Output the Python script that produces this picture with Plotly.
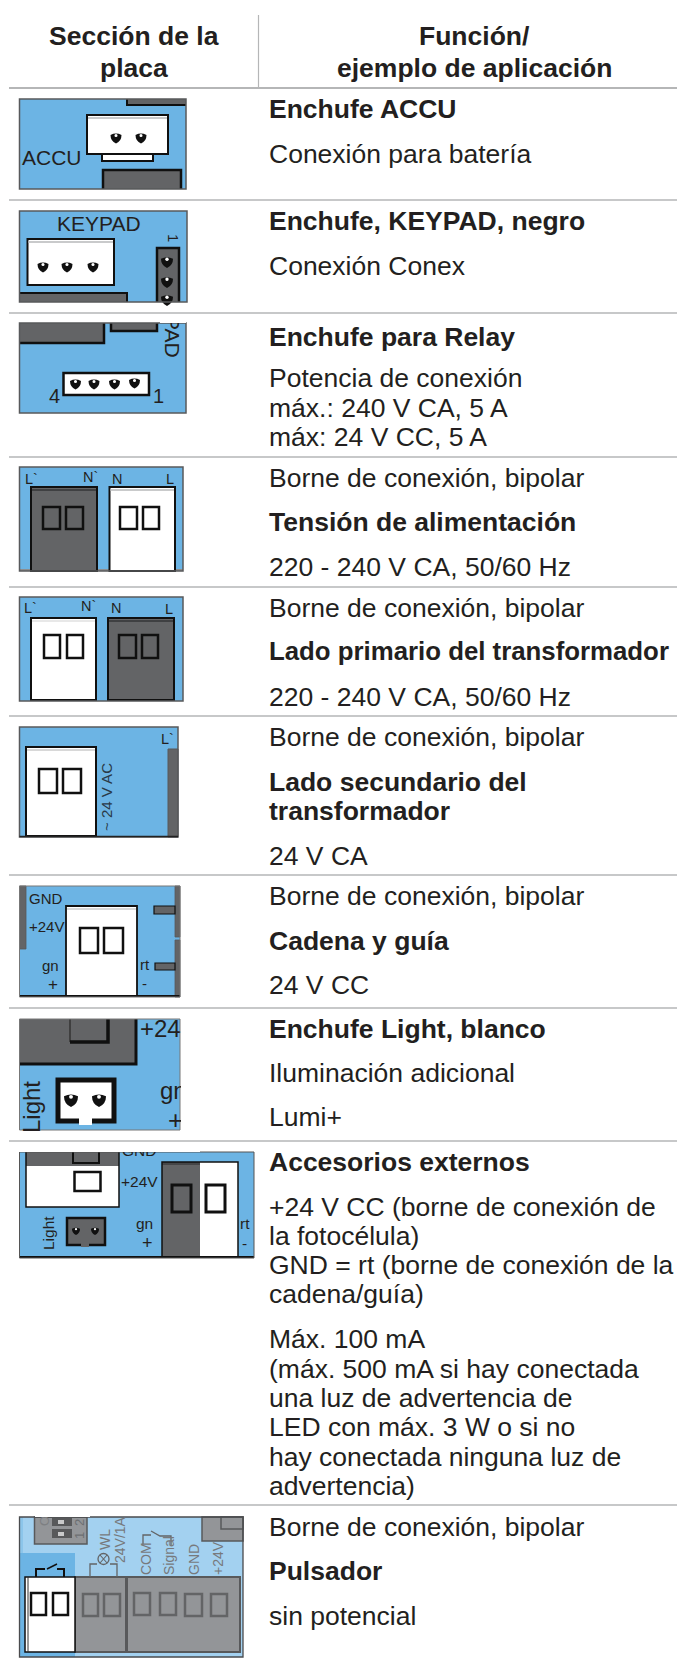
import plotly.graph_objects as go

# ---- table content ----
HEADER_LEFT = ["Sección de la", "placa"]
HEADER_RIGHT = ["Función/", "ejemplo de aplicación"]
# (text, bold)
ROW_TEXT = [
    ("Enchufe ACCU", True), ("Conexión para batería", False),
    ("Enchufe, KEYPAD, negro", True), ("Conexión Conex", False),
    ("Enchufe para Relay", True), ("Potencia de conexión", False),
    ("máx.: 240 V CA, 5 A", False), ("máx: 24 V CC, 5 A", False),
    ("Borne de conexión, bipolar", False), ("Tensión de alimentación", True),
    ("220 - 240 V CA, 50/60 Hz", False),
    ("Borne de conexión, bipolar", False), ("Lado primario del transformador", True),
    ("220 - 240 V CA, 50/60 Hz", False),
    ("Borne de conexión, bipolar", False), ("Lado secundario del", True),
    ("transformador", True), ("24 V CA", False),
    ("Borne de conexión, bipolar", False), ("Cadena y guía", True), ("24 V CC", False),
    ("Enchufe Light, blanco", True), ("Iluminación adicional", False), ("Lumi+", False),
    ("Accesorios externos", True), ("+24 V CC (borne de conexión de", False),
    ("la fotocélula)", False), ("GND = rt (borne de conexión de la", False),
    ("cadena/guía)", False), ("Máx. 100 mA", False),
    ("(máx. 500 mA si hay conectada", False), ("una luz de advertencia de", False),
    ("LED con máx. 3 W o si no", False), ("hay conectada ninguna luz de", False),
    ("advertencia)", False),
    ("Borne de conexión, bipolar", False), ("Pulsador", True), ("sin potencial", False),
]
ROW_TEXT_Y = [109, 154, 221, 266, 337, 378, 408, 437, 478, 522, 567, 608, 651, 697,
              737, 782, 811, 856, 896, 941, 985, 1029, 1073, 1117, 1162, 1207, 1236,
              1265, 1294, 1339, 1369, 1398, 1427, 1457, 1486, 1527, 1571, 1616]
RULE_Y = [88, 200, 313, 457, 587, 716, 875, 1008, 1141, 1505]

BLUE = "#6cb4e4"
LIGHT = "#a3d1f0"
DARK = "#636466"
GREY = "#939598"
BLACK = "#101010"
EDGE = "#58595b"
TXT = "#231f20"
FONT = "Liberation Sans, Arial, sans-serif"

shapes, ann = [], []


def rect(x0, y0, x1, y1, fill=None, line=None, w=0):
    shapes.append(dict(type="rect", xref="x", yref="y", x0=x0, y0=y0, x1=x1, y1=y1,
                       fillcolor=fill or "rgba(0,0,0,0)",
                       line=dict(color=line or "rgba(0,0,0,0)", width=w)))


def seg(pts, color=BLACK, w=2):
    path = "M " + " L ".join(f"{a},{b}" for a, b in pts)
    shapes.append(dict(type="path", xref="x", yref="y", path=path,
                       line=dict(color=color, width=w)))


def text(x, y, s, size=14, color=TXT, anchor="left", angle=0, bold=False):
    if anchor == "left":
        x -= 2.5  # annotation padding
    ann.append(dict(x=x, y=y, xref="x", yref="y", text=f"<b>{s}</b>" if bold else s,
                    showarrow=False, xanchor=anchor, yanchor="middle", textangle=angle,
                    font=dict(family=FONT, size=size, color=color)))


def mask(x0, y0, x1, y1):
    ann.append(dict(x=x0, y=y0, xref="x", yref="y", text=" ", showarrow=False,
                    xanchor="left", yanchor="top", width=x1 - x0, height=y1 - y0,
                    bgcolor="white", borderpad=0, borderwidth=0,
                    font=dict(size=1, color="white")))


def pin(x, y, r=5.5, color=BLACK):
    p = (f"M {x-r},{y-r*.55} Q {x},{y-r*1.05} {x+r},{y-r*.55} "
         f"Q {x+r},{y+r*.55} {x},{y+r} Q {x-r},{y+r*.55} {x-r},{y-r*.55} Z")
    shapes.append(dict(type="path", xref="x", yref="y", path=p, fillcolor=color,
                       line=dict(color=color, width=0)))
    d = r * .28
    shapes.append(dict(type="circle", xref="x", yref="y", x0=x-d, x1=x+d, y0=y-r*.45-d,
                       y1=y-r*.45+d, fillcolor="white", line=dict(width=0, color="white")))


def panel(x0, y0, x1, y1):
    rect(x0, y0, x1, y1, BLUE)


def frame(x0, y0, x1, y1, color=EDGE, w=1.5):
    rect(x0, y0, x1, y1, None, color, w)


def connector(x0, y0, x1, y1, fill="white", stripe="#c9cacb", w=2):
    rect(x0, y0, x1, y1, fill, BLACK, w)
    rect(x0 + 1, y0 + 2, x1 - 1, y0 + 4, stripe)


def hole(x0, y0, x1, y1, color=BLACK, w=2.5):
    rect(x0, y0, x1, y1, None, color, w)


# ---- rules ----
for i, y in enumerate(RULE_Y):
    h = 1.1 if i == 0 else 0.85
    rect(9, y - h, 685, y + h, "#b5b6b7")
seg([(258.5, 15), (258.5, 88)], "#b5b6b7", 1.2)

# ---- image 1: ACCU ----
panel(19.5, 99, 186, 189)
rect(127, 99, 186, 104.5, DARK)
seg([(127, 99), (127, 105), (186, 105)], BLACK, 2)
rect(102, 154, 153, 161, "white", BLACK, 2)
connector(87, 115, 168, 154)
pin(116, 138); pin(141, 138)
rect(103, 169, 181, 189, DARK)
seg([(103, 189), (103, 170), (181, 170), (181, 189)], BLACK, 2.5)
text(22, 157, "ACCU", 21)
frame(19.5, 99, 186, 189)

# ---- image 2: KEYPAD ----
panel(19.5, 211, 187, 302)
text(99, 223, "KEYPAD", 21, anchor="center")
connector(27.5, 239, 114, 285)
pin(43, 267); pin(67, 267); pin(93, 267)
rect(20, 293, 127, 302, DARK)
seg([(20, 293), (127, 293), (127, 302)], BLACK, 2)
rect(157, 248, 179, 302, DARK)
seg([(157, 302), (157, 248), (179, 248), (179, 302)], BLACK, 2.5)
pin(167, 262, 6); pin(167, 282, 6); pin(167, 300, 6)
text(174, 238, "1", 15, anchor="center", angle=90)
frame(19.5, 211, 187, 302)

# ---- image 3: relay ----
panel(19.5, 323, 186, 413)
rect(19.5, 323, 104, 343, DARK)
seg([(19.5, 343), (104, 343), (104, 323)], BLACK, 2.5)
rect(111, 323, 157, 331, DARK)
seg([(111, 323), (111, 331), (157, 331), (157, 323)], BLACK, 2.5)
text(173, 337, "PAD", 21, anchor="center", angle=90)
mask(160, 314.5, 186, 322.5)
rect(63.5, 373, 149, 395, "white", BLACK, 2.5)
pin(75.5, 384); pin(94, 384); pin(114.5, 384); pin(134.5, 383)
text(49, 396, "4", 20); text(153, 396, "1", 20)
frame(19.5, 323, 186, 413)

# ---- image 4: supply ----
panel(19.5, 467, 183, 571)
rect(19.5, 569, 183, 571, "#8c8e90")
for lx, s, ly in [(25, "L`", 479), (83, "N`", 477), (112, "N", 479), (166, "L", 479)]:
    text(lx, ly, s, 14.5)
connector(31, 487, 97, 571, DARK, "#3f4042")
connector(109.5, 487, 175, 571, "white", "#c9cacb")
hole(43, 507, 60, 529); hole(66, 507, 83, 529)
hole(120, 507, 137, 529); hole(143, 507, 159, 529)
frame(19.5, 467, 183, 571)

# ---- image 5: transformer primary ----
panel(19.5, 597, 183, 701)
for lx, s, ly in [(24, "L`", 608), (81, "N`", 606), (111, "N", 608), (165, "L", 609)]:
    text(lx, ly, s, 14.5)
connector(31, 618, 96, 700, "white", "#e8e8e8")
connector(108, 618, 174, 700, DARK, "#3f4042")
hole(44, 635, 60, 658); hole(67, 635, 83, 658)
hole(119, 635, 136, 658); hole(142, 635, 158, 658)
frame(19.5, 597, 183, 701)

# ---- image 6: transformer secondary ----
panel(19.5, 727, 178, 837)
rect(168, 749, 178, 837, DARK, EDGE, 1)
text(161, 739, "L`", 14.5)
connector(26, 747, 96, 836, "white", "#d8d8d8")
hole(39, 769, 57, 793); hole(63, 769, 81, 793)
text(106, 797, "~ 24 V AC", 15, anchor="center", angle=-90, color="#2a3a48")
frame(19.5, 727, 178, 837)
seg([(19.5, 836.5), (178, 836.5)], "#222", 1.5)

# ---- image 7: chain & rail ----
panel(19.5, 886, 180, 997)
rect(19.5, 886, 26, 949, DARK, EDGE, 0.8)
rect(175, 886, 180, 937, DARK, EDGE, 0.8)
rect(175, 940, 180, 997, DARK, EDGE, 0.8)
rect(154, 906, 175, 914, DARK, BLACK, 1.2)
rect(155, 963, 175, 970, DARK, BLACK, 1.2)
text(29, 898, "GND", 15); text(29, 926, "+24V", 15)
text(42, 965, "gn", 15); text(48, 984, "+", 17)
text(140, 964, "rt", 15); text(142, 983, "-", 15)
connector(66, 906, 137, 996, "white", "#d8d8d8", 1.8)
hole(80, 928, 98, 953); hole(104, 928, 123, 953)
seg([(19.5, 996), (180, 996)], "#111", 2)
frame(19.5, 886, 180, 997, "#777", 1)

# ---- image 8: Light ----
panel(19.5, 1019, 180, 1130)
rect(19.5, 1019, 136, 1064, DARK)
seg([(19.5, 1064), (136, 1064), (136, 1019)], BLACK, 3)
seg([(70, 1019), (70, 1042)], "#333", 1.5)
seg([(70, 1042), (108, 1042), (108, 1019)], BLACK, 3.5)
text(140, 1028, "+24", 24)
text(160, 1090, "gn", 24)
text(168, 1120, "+", 26)
text(31, 1107, "Light", 24, anchor="center", angle=-90)
rect(58, 1080, 114, 1121, "white", BLACK, 5)
rect(79, 1117, 92, 1125, "white")
pin(71, 1100, 7); pin(99, 1100, 7)
mask(180.5, 1075, 200, 1131)
mask(15, 1131, 60, 1139)
frame(19.5, 1019, 180, 1130, "#777", 1)

# ---- image 9: external accessories ----
panel(19.5, 1152, 254, 1258)
rect(26, 1152, 119, 1166, DARK)
rect(26, 1166, 119, 1207, "white")
seg([(26, 1152), (26, 1207), (119, 1207), (119, 1152)], BLACK, 1.5)
seg([(73, 1152), (73, 1163), (99, 1163), (99, 1152)], BLACK, 2)
rect(74.5, 1172, 100.5, 1191, None, BLACK, 2.5)
text(122, 1150, "GND", 15.5); text(121, 1181, "+24V", 15.5)
text(136, 1223, "gn", 15.5); text(142, 1243, "+", 18)
text(240, 1223, "rt", 15.5); text(242, 1243, "-", 15.5)
text(48, 1233, "Light", 15.5, anchor="center", angle=-90)
rect(67, 1218, 105, 1245, DARK, BLACK, 2.5)
rect(81, 1243, 89, 1247, DARK)
pin(76, 1231, 4); pin(95, 1231, 4)
rect(162, 1162, 200, 1256, DARK)
rect(200, 1162, 238, 1256, "white")
rect(162, 1162, 200, 1165, "#454648")
seg([(162, 1256), (162, 1162), (238, 1162), (238, 1256)], BLACK, 1.5)
rect(172, 1185, 191, 1212, None, BLACK, 3)
rect(206, 1185, 225, 1212, None, BLACK, 3)
seg([(19.5, 1257), (254, 1257)], BLACK, 2)
frame(19.5, 1152, 254, 1258, "#555", 1)
mask(10, 1142.5, 200, 1151.5)

# ---- image 10: push button ----
rect(19.5, 1517, 243, 1657, LIGHT)
rect(19.5, 1553, 75, 1657, BLUE)
rect(19.5, 1517, 23, 1553, "#8cc5ea")
rect(34.5, 1517, 87, 1544, GREY, EDGE, 1.5)
rect(52, 1518, 72, 1526, "#58595b")
rect(52, 1529, 72, 1538, "#58595b")
rect(58, 1532, 64, 1536, "#c9cacb")
rect(58, 1520, 64, 1524, "#c9cacb")
text(44, 1521, "O", 13, color="#7d7f82", anchor="center", angle=-90)
text(79, 1523, "2", 13, color="#6d6f72", anchor="center", angle=-90)
text(79, 1536, "1", 13, color="#6d6f72", anchor="center", angle=-90)
mask(35, 1506.5, 90, 1516.5)
rect(202, 1517, 243, 1541, GREY, EDGE, 1.5)
rect(221, 1517, 243, 1529, GREY, EDGE, 1.5)
rect(75, 1577, 126, 1652, GREY, EDGE, 2)
rect(127, 1577, 240, 1652, GREY, EDGE, 2)
rect(25, 1577, 75, 1652, "white", BLACK, 1.5)
seg([(28, 1577), (28, 1652)], "#333", 1)
hole(31, 1593, 46, 1615); hole(53, 1593, 68, 1615)
for hx0, hx1, hy0 in [(83, 98, 1594), (104, 120, 1594), (134, 150, 1593),
                      (160, 176, 1593), (185, 202, 1594), (211, 227, 1594)]:
    hole(hx0, hy0, hx1, hy0 + 22, "#636466", 2.5)
seg([(36, 1577), (36, 1569), (45, 1569)], BLACK, 2)
seg([(47, 1569), (57, 1564)], BLACK, 1.5)
seg([(57, 1569), (64, 1569), (64, 1577)], BLACK, 2)
seg([(90, 1577), (90, 1564), (97, 1564)], "#636466", 1.3)
seg([(110, 1564), (117, 1564), (117, 1577)], "#636466", 1.3)
shapes.append(dict(type="circle", xref="x", yref="y", x0=98, x1=109, y0=1553.5, y1=1564.5,
                   line=dict(color="#636466", width=1.3)))
seg([(100, 1555), (107, 1563)], "#636466", 1.1)
seg([(107, 1555), (100, 1563)], "#636466", 1.1)
seg([(143, 1544), (143, 1535), (151, 1535)], "#636466", 1.3)
seg([(151, 1531), (160, 1536), (171, 1536), (171, 1546)], "#636466", 1.3)
for lx, ly, s in [(105, 1540, "WL"), (120, 1540, "24V/1A"), (146, 1559, "COM"),
                  (169, 1556, "Signal"), (194, 1560, "GND"), (218, 1558, "+24V")]:
    text(lx, ly, s, 14, color="#77797c", anchor="center", angle=-90)
frame(19.5, 1517, 243, 1657, "#4a4b4d", 1.3)

# ---- table text ----
for y, s in zip([36, 68], HEADER_LEFT):
    text(133.5, y, s, 26.5, anchor="center", bold=True)
for y, s in zip([36, 68], HEADER_RIGHT):
    text(474, y, s, 26.5, anchor="center", bold=True)
for y, (s, b) in zip(ROW_TEXT_Y, ROW_TEXT):
    size = 26.5
    if s.startswith("Lado primario"):
        size = 25.8
    text(269.5, y, s, size, bold=b)

fig = go.Figure()
# the page keeps its 8 px body margin, so the plot starts at (8, 8) in the window
fig.update_layout(
    width=677, height=1651, margin=dict(l=0, r=0, t=0, b=0),
    paper_bgcolor="white", plot_bgcolor="white", showlegend=False,
    xaxis=dict(range=[8, 685], visible=False, fixedrange=True),
    yaxis=dict(range=[1659, 8], visible=False, fixedrange=True),
    shapes=shapes, annotations=ann,
)
fig.write_html("out.html", config=dict(displayModeBar=False))
